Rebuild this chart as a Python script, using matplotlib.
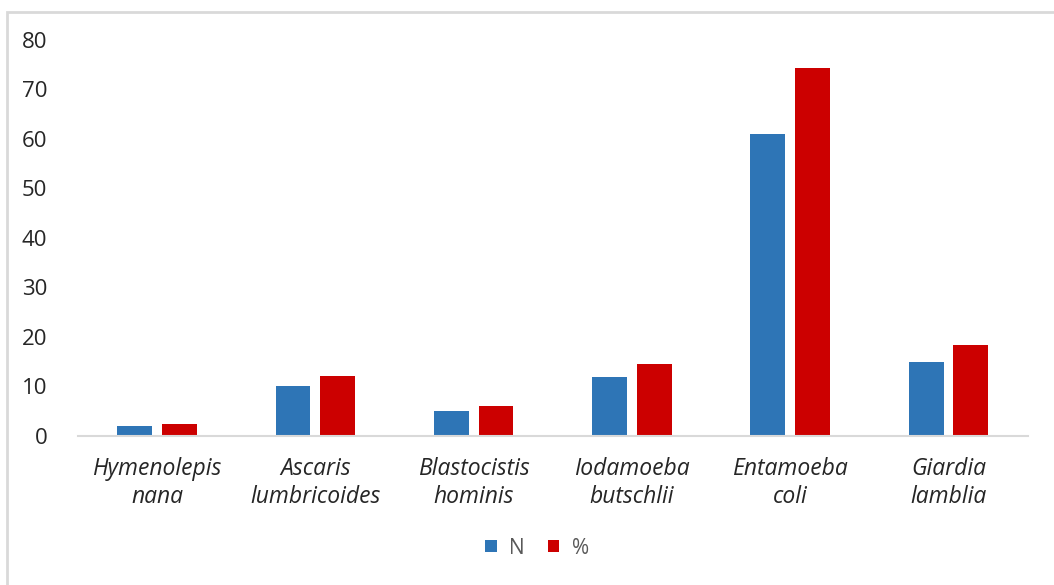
import numpy as np
import matplotlib.pyplot as plt
from matplotlib.patches import Rectangle

# parasite counts and share of positive samples
species = ['Hymenolepis\nnana', 'Ascaris\nlumbricoides', 'Blastocistis\nhominis',
           'Iodamoeba\nbutschlii', 'Entamoeba\ncoli', 'Giardia\nlamblia']
n_vals = [2, 10, 5, 12, 61, 15]
pct_vals = [2.4, 12.2, 6.1, 14.6, 74.4, 18.3]

plt.rcParams['font.family'] = ['Open Sans', 'DejaVu Sans']

fig = plt.figure(figsize=(10.54, 5.85), dpi=100)
ax = fig.add_axes([0.074, 0.2547, 0.901, 0.677])

x = np.arange(len(species))
w = 0.22
gap = 0.063
ax.bar(x - (w + gap) / 2, n_vals, w, color='#2E75B6', label='N')
ax.bar(x + (w + gap) / 2, pct_vals, w, color='#CC0000', label='%')

ax.set_xlim(-0.5, len(species) - 0.5)
ax.set_ylim(0, 80)
ax.set_yticks(range(0, 81, 10))
ax.tick_params(axis='y', length=0, pad=22, labelsize=16, labelcolor='#262626')
ax.tick_params(axis='x', length=0, pad=15)
ax.set_xticks(x)
ax.set_xticklabels(species, fontsize=16.5, style='italic', color='#262626',
                   linespacing=1.25)
for t in ax.get_yticklabels():
    t.set_horizontalalignment('right')

for s in ['top', 'right', 'left']:
    ax.spines[s].set_visible(False)
ax.spines['bottom'].set_color('#d9d9d9')
ax.spines['bottom'].set_linewidth(1.5)

leg = fig.legend(loc='center', bbox_to_anchor=(537 / 1054, 1 - 548 / 585), ncol=2,
                 frameon=False, fontsize=15, handlelength=0.55, handleheight=0.55,
                 handletextpad=0.6, columnspacing=1.1)
for t in leg.get_texts():
    t.set_color('#595959')

# chart area border
fig.patches.append(Rectangle((7 / 1054, -0.1), 1.2, 1 - 12 / 585 + 0.1,
                             transform=fig.transFigure, fill=False,
                             edgecolor='#d9d9d9', linewidth=2))

fig.savefig('out.png', dpi=100)
